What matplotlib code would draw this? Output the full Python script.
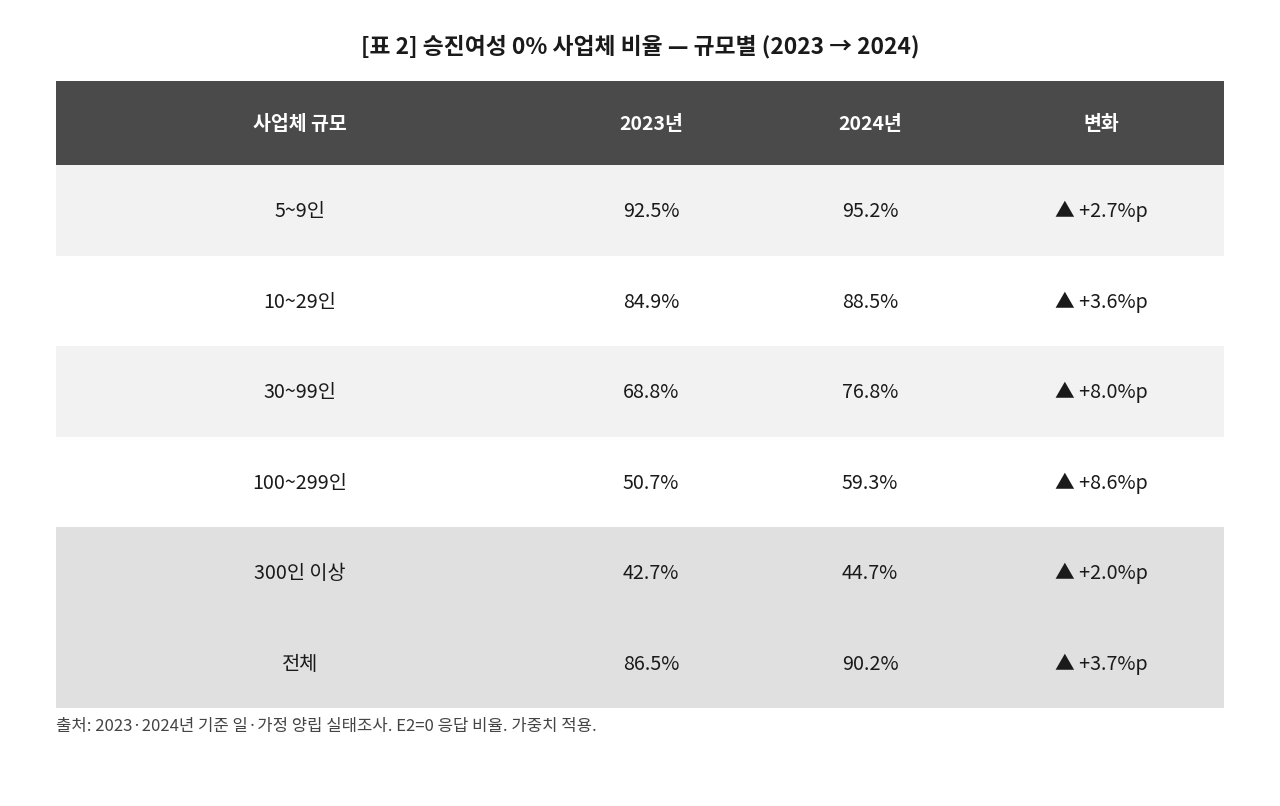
import matplotlib.pyplot as plt
from matplotlib.patches import Rectangle

plt.rcParams['font.family'] = ['Noto Sans CJK KR', 'DejaVu Sans']

title = '[표 2] 승진여성 0% 사업체 비율 — 규모별 (2023 → 2024)'
headers = ['사업체 규모', '2023년', '2024년', '변화']
sizes = ['5~9인', '10~29인', '30~99인', '100~299인', '300인 이상', '전체']
pct_2023 = [92.5, 84.9, 68.8, 50.7, 42.7, 86.5]
pct_2024 = [95.2, 88.5, 76.8, 59.3, 44.7, 90.2]
source = '출처: 2023·2024년 기준 일·가정 양립 실태조사. E2=0 응답 비율. 가중치 적용.'

row_colors = ['#f2f2f2', '#ffffff', '#f2f2f2', '#ffffff', '#e0e0e0', '#e0e0e0']

fig = plt.figure(figsize=(12.8, 8.06), dpi=100)
ax = fig.add_axes([0, 0, 1, 1])
ax.set_xlim(0, 1280)
ax.set_ylim(806, 0)
ax.axis('off')

left, right = 56, 1224
col_x = [300, 651, 870, 1101]
head_top, head_h = 81, 84
row_h = 90.5

ax.text(640, 47, title, ha='center', va='center', fontsize=16.4, fontweight='bold', color='#1a1a1a')

ax.add_patch(Rectangle((left, head_top), right - left, head_h, color='#4a4a4a', lw=0))
for x, h in zip(col_x, headers):
    ax.text(x, head_top + head_h / 2 + 1, h, ha='center', va='center',
            fontsize=14, fontweight='bold', color='white')

for i, name in enumerate(sizes):
    top = head_top + head_h + i * row_h
    ax.add_patch(Rectangle((left, top), right - left, row_h, color=row_colors[i], lw=0))
    yc = top + row_h / 2 + 1.5
    diff = pct_2024[i] - pct_2023[i]
    cells = [name, f'{pct_2023[i]:.1f}%', f'{pct_2024[i]:.1f}%', f'▲ +{diff:.1f}%p']
    for x, c in zip(col_x, cells):
        ax.text(x, yc, c, ha='center', va='center', fontsize=14.2, color='#1a1a1a')

ax.text(left, 726, source, ha='left', va='center', fontsize=12, color='#444444')

fig.savefig('out.png', dpi=100, facecolor='white')
